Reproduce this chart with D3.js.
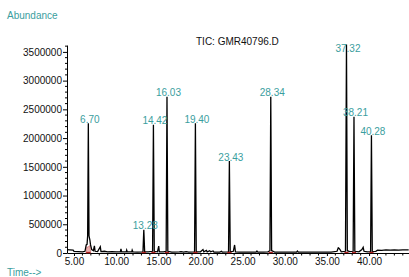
<!DOCTYPE html>
<html><head><meta charset="utf-8">
<script src="https://cdn.jsdelivr.net/npm/d3@7"></script>
<style>
html,body{margin:0;padding:0;background:#fff;}
svg{display:block;font-family:"Liberation Sans",Arial,sans-serif;}
</style></head>
<body>
<svg id="c" width="409" height="277"></svg>
<script>
// ---- data ----
const chartTitle = "TIC: GMR40796.D";
const yTickValues = [0, 500000, 1000000, 1500000, 2000000, 2500000, 3000000, 3500000];
const xTickValues = [5, 10, 15, 20, 25, 30, 35, 40];
const xTickLabels = ["5.00","10.00","15.00","20.00","25.00","30.00","35.00","40.00"];

const peakTimes   = [6.70, 13.28, 14.42, 16.03, 19.40, 23.43, 28.34, 37.32, 38.21, 40.28];
const peakHeights = [2257000, 405000, 2230000, 2720000, 2260000, 1600000, 2720000, 3630000, 2370000, 2050000];
const peakLabels  = ["6.70","13.28","14.42","16.03","19.40","23.43","28.34","37.32","38.21","40.28"];

const traceTime = [4.17,4.5,4.9,5.0,5.5,6.0,6.3,6.45,6.55,6.62,6.70,6.78,6.88,6.95,7.1,7.3,7.42,7.5,7.8,8.12,8.2,8.6,9.0,9.5,10.0,10.5,10.57,10.65,11.2,11.25,11.32,11.85,11.9,11.98,12.5,13.18,13.28,13.38,13.8,14.32,14.42,14.52,14.9,15.05,15.12,15.6,15.93,16.03,16.13,16.6,17.5,17.7,18.0,18.3,18.6,19.30,19.40,19.50,20.0,20.3,20.4,20.7,20.8,21.1,21.2,21.5,21.6,22.3,22.5,22.6,23.33,23.43,23.53,23.9,24.05,24.15,24.6,25.5,26.6,26.7,26.8,27.5,28.0,28.24,28.34,28.44,28.8,30.0,31.4,31.5,31.6,33.0,34.5,35.5,36.2,36.35,36.45,36.55,36.7,37.2,37.32,37.42,37.7,38.11,38.21,38.31,38.8,39.15,39.3,39.4,39.8,40.18,40.28,40.38,40.8,41.0,41.5,42.0,42.5,43.0,43.5,44.0,44.7];
const traceAbund = [60000,55000,50000,30000,25000,20000,30000,140000,150000,300000,2257000,300000,230000,150000,60000,40000,125000,30000,25000,110000,25000,30000,20000,25000,20000,20000,70000,20000,20000,50000,20000,20000,50000,20000,15000,20000,405000,20000,20000,30000,2230000,30000,20000,120000,20000,20000,30000,2720000,30000,15000,20000,25000,15000,25000,15000,20000,2260000,20000,20000,60000,20000,45000,20000,40000,20000,35000,15000,15000,30000,15000,20000,1600000,20000,30000,140000,20000,15000,15000,15000,35000,15000,15000,20000,40000,2720000,40000,15000,15000,15000,35000,15000,15000,15000,15000,30000,90000,80000,60000,20000,30000,3630000,40000,25000,30000,2370000,30000,20000,60000,100000,30000,20000,25000,2050000,25000,30000,50000,45000,55000,50000,55000,50000,55000,55000];

// integration fill under the first peak
const fillTime  = [6.42, 6.52, 6.64, 6.78, 6.90, 6.98];
const fillAbund = [0, 110000, 100000, 120000, 130000, 0];

// ---- drawing ----
const svg = d3.select("#c");
const x = d3.scaleLinear().domain([4.17, 44.7]).range([67, 408.7]);
const y = d3.scaleLinear().domain([0, 3620000]).range([253, 45]);
const teal = "#3a9e9e";

// y axis
const yAxis = d3.axisLeft(y).tickValues(yTickValues).tickFormat(d3.format("d")).tickSize(4).tickSizeOuter(0);
const gy = svg.append("g").attr("transform","translate(67,0)").call(yAxis);
gy.select(".domain").attr("stroke","#000");
gy.selectAll("text").attr("font-size","10px").attr("fill","#111").attr("x",-5).attr("font-family","Liberation Sans, Arial, sans-serif");
const yMinor = d3.range(0, 3600001, 100000).filter(v => v % 500000 !== 0);
svg.append("g").selectAll("line").data(yMinor).join("line")
  .attr("x1",65).attr("x2",67).attr("y1",d=>y(d)).attr("y2",d=>y(d)).attr("stroke","#000");

// x axis
const xAxis = d3.axisBottom(x).tickValues(xTickValues).tickFormat((d,i)=>xTickLabels[i]).tickSize(3).tickSizeOuter(0);
const gx = svg.append("g").attr("transform","translate(0,253)").call(xAxis);
gx.select(".domain").attr("stroke","#000");
gx.selectAll("text").attr("font-size","10px").attr("fill","#111").attr("y",5).attr("font-family","Liberation Sans, Arial, sans-serif");
const xMinor = d3.range(5, 45, 1).filter(v => v % 5 !== 0);
svg.append("g").selectAll("line").data(xMinor).join("line")
  .attr("x1",d=>x(d)).attr("x2",d=>x(d)).attr("y1",253).attr("y2",255.5).attr("stroke","#000");

// integration fill
const pts = fillTime.map((t,i)=>[x(t), y(fillAbund[i])]);
svg.append("path").attr("d", d3.line()(pts)+"Z").attr("fill","#eab0b0").attr("stroke","#c05050").attr("stroke-width",0.5);

// trace
const tracePts = traceTime.map((t,i)=>[x(t), y(traceAbund[i])]);
svg.append("path").attr("d", d3.line()(tracePts)).attr("fill","none").attr("stroke","#000").attr("stroke-width",1.3).attr("stroke-linejoin","miter");

// integration baseline markers
svg.append("g").selectAll("line").data(peakTimes).join("line")
  .attr("x1",d=>x(d-0.25)).attr("x2",d=>x(d+0.25)).attr("y1",252.5).attr("y2",252.5)
  .attr("stroke","#b02020").attr("stroke-width",1.3);

// peak labels
svg.append("g").selectAll("text").data(peakTimes).join("text")
  .attr("x",d=>x(d)+1.5)
  .attr("y",(d,i)=>Math.max(y(peakHeights[i]) - 0.5, y(3500000)+0.5))
  .attr("text-anchor","middle").attr("font-size","10px").attr("fill",teal)
  .text((d,i)=>peakLabels[i]);

// texts
svg.append("text").attr("x",7).attr("y",19).attr("font-size","10px").attr("fill",teal).text("Abundance");
svg.append("text").attr("x",7).attr("y",276).attr("font-size","10px").attr("fill",teal).text("Time-->");
svg.append("text").attr("x",196).attr("y",45).attr("font-size","10px").attr("fill","#111").text(chartTitle);
</script>
</body></html>
